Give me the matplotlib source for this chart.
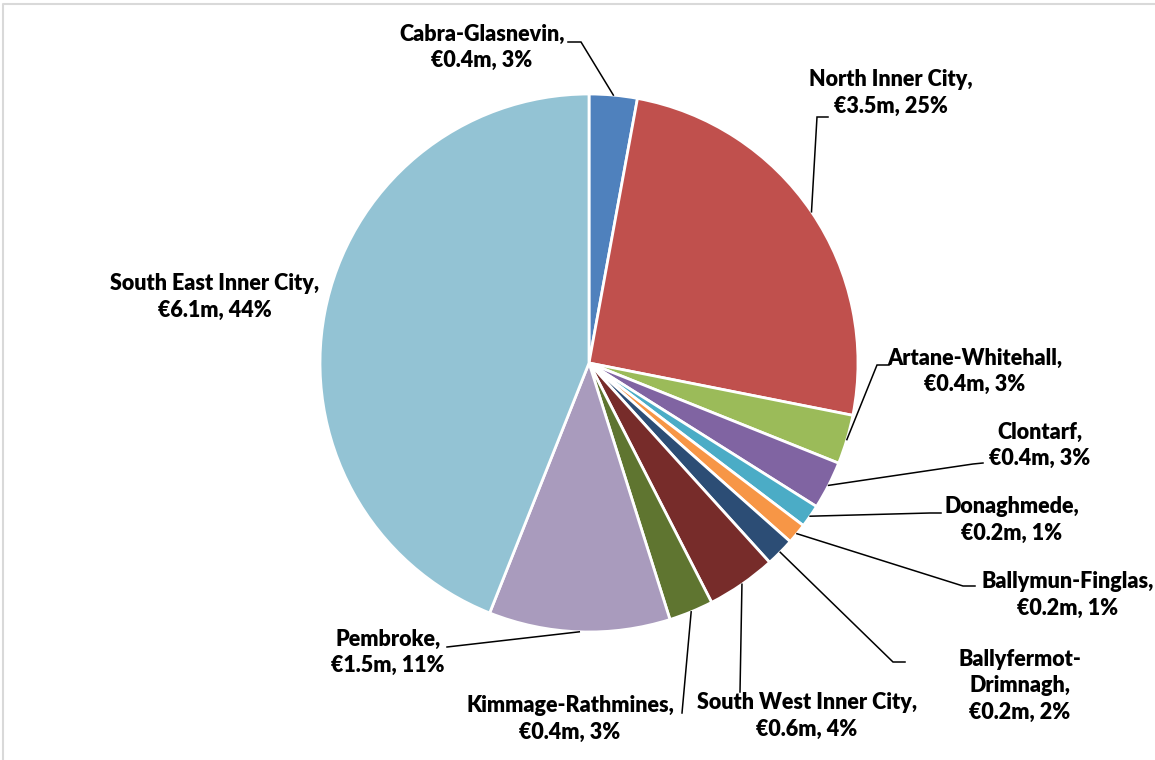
import numpy as np
import matplotlib
matplotlib.use("Agg")
import matplotlib.pyplot as plt
from matplotlib.lines import Line2D

# Budget by area (EUR million)
areas = [
    "Cabra-Glasnevin",
    "North Inner City",
    "Artane-Whitehall",
    "Clontarf",
    "Donaghmede",
    "Ballymun-Finglas",
    "Ballyfermot-\nDrimnagh",
    "South West Inner City",
    "Kimmage-Rathmines",
    "Pembroke",
    "South East Inner City",
]
values = [0.40, 3.50, 0.41, 0.40, 0.19, 0.17, 0.24, 0.58, 0.37, 1.51, 6.10]

colors = [
    "#4F81BD", "#C0504D", "#9BBB59", "#8064A2", "#4BACC6", "#F79646",
    "#2C4D75", "#772C2A", "#5F7530", "#A99BBD", "#93C3D4",
]

W, H = 1155, 760
fig = plt.figure(figsize=(W / 100, H / 100), dpi=100)
ax = fig.add_axes([0, 0, 1, 1])


def P(x, y):
    """Pixel position (origin top-left) to axes data coordinates."""
    return x, H - y


cx, cy = P(589, 363)
R = 269

wedges, _ = ax.pie(
    values, colors=colors, startangle=90, counterclock=False,
    center=(cx, cy), radius=R,
    wedgeprops=dict(edgecolor="white", linewidth=2.0),
)
ax.set_xlim(0, W)
ax.set_ylim(0, H)
ax.set_aspect("equal")
ax.axis("off")

total = sum(values)
pcts = [v / total * 100 for v in values]

# label block centre, leader elbow, tick end (pixels); None = no leader
layout = [
    ((482, 47), (581, 42), (568, 42)),
    ((891, 93), (817, 117), (828, 117)),
    ((975, 371), (877, 365), (889, 365)),
    ((1040, 445), (973, 464), (983, 463)),
    ((1012, 520), (930, 513), (941, 513)),
    ((1068, 595), (963, 586), (975, 586)),
    ((1020, 686), (893, 662), (905, 662)),
    ((807, 716), (740, 692), None),
    ((570, 719), (682, 713), None),
    ((388, 652), (447, 647), None),
    ((215, 297), None, None),
]

font = dict(family=["Lato", "DejaVu Sans"], weight="heavy", fontsize=15.5,
            color="black", linespacing=1.3)

for w, name, v, pct, (tc, elbow, tick) in zip(wedges, areas, values, pcts, layout):
    label = f"{name},\n€{v:.1f}m, {pct:.0f}%"
    ax.text(*P(*tc), label, ha="center", va="center", **font)
    if elbow is None:
        continue
    mid = np.deg2rad((w.theta1 + w.theta2) / 2)
    ax_pt = (cx + R * np.cos(mid), cy + R * np.sin(mid))
    ex, ey = P(*elbow)
    xs = [ax_pt[0], ex]
    ys = [ax_pt[1], ey]
    if tick is not None:
        tx, ty = P(*tick)
        xs.append(tx)
        ys.append(ty)
    ax.add_line(Line2D(xs, ys, color="black", linewidth=1.1,
                       solid_joinstyle="miter"))

# chart area frame (top and left edges)
ax.add_line(Line2D([3, 3, W], [0, H - 4, H - 4], color="#D9D9D9", linewidth=1.5))

fig.savefig("out.png", dpi=100, facecolor="white")
